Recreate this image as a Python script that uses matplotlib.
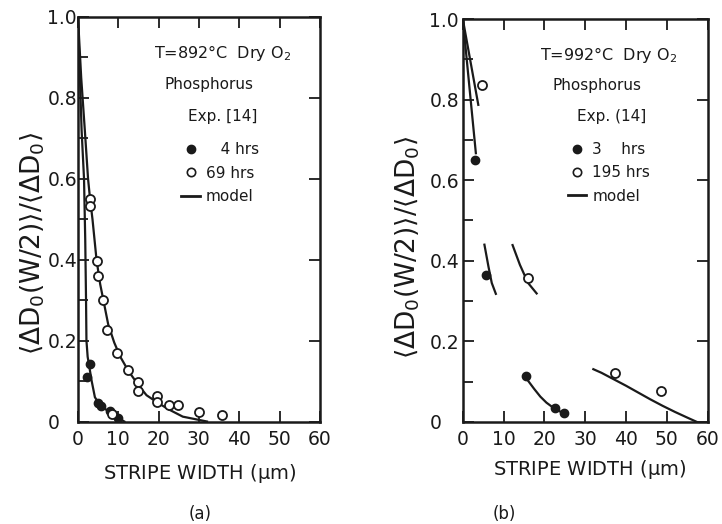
import numpy as np
import matplotlib
matplotlib.use("Agg")
import matplotlib.pyplot as plt
from matplotlib.lines import Line2D

nan = np.nan

# (a) T=892C dry O2
a_4h_x = [2.3, 3.0, 5.0, 5.6, 7.9, 10.0]
a_4h_y = [0.11, 0.142, 0.046, 0.038, 0.027, 0.008]
a_69h_x = [2.9, 2.9, 4.7, 5.0, 6.3, 7.1, 8.5, 9.7, 12.4, 15.0, 14.9, 19.6, 19.5, 22.5, 24.8, 30.1, 35.7]
a_69h_y = [0.55, 0.533, 0.398, 0.36, 0.30, 0.226, 0.018, 0.169, 0.128, 0.097, 0.075, 0.064, 0.048, 0.042, 0.042, 0.023, 0.017]
a_model4_x = [0, 0.9, 1.5, 1.8, 2.0, 2.1, 2.4, 2.9, 3.4, 4.2, 5.5, 8.0, 10.0, 11.5]
a_model4_y = [1.0, 0.72, 0.6, 0.45, 0.3, 0.2, 0.16, 0.13, 0.1, 0.06, 0.04, 0.022, 0.008, 0.0]
a_model69_x = [0, 0.8, 1.7, 2.5, 3.0, 3.6, 4.6, 5.5, 6.5, 7.5, 9, 10.5, 12.5, 15, 17, 20, 22.5, 26, 32]
a_model69_y = [1.0, 0.85, 0.72, 0.6, 0.55, 0.5, 0.4, 0.34, 0.29, 0.24, 0.195, 0.16, 0.125, 0.09, 0.065, 0.045, 0.03, 0.012, 0.0]

# (b) T=992C dry O2 -- parts of the curves are missing in the scan (nan = gap)
b_3h_x = [2.9, 5.8, 15.4, 22.7, 24.8]
b_3h_y = [0.65, 0.365, 0.114, 0.034, 0.022]
b_195h_x = [4.6, 16.0, 37.3, 48.6]
b_195h_y = [0.836, 0.357, 0.122, 0.078]
b_model3_x = [0, 3.2, nan, 5.3, 6.3, 7.1, 8.1, nan, 15.8, 17.5, 19.0, 20.5, 22.5, 25.0]
b_model3_y = [1.0, 0.667, nan, 0.44, 0.385, 0.345, 0.318, nan, 0.105, 0.082, 0.063, 0.048, 0.033, 0.02]
b_model195_x = [0, 3.8, nan, 12.2, 14.0, 16.0, 18.1, nan, 32, 34, 37, 40, 43, 46, 49, 52, 55, 57.4]
b_model195_y = [1.0, 0.787, nan, 0.439, 0.39, 0.345, 0.319, nan, 0.131, 0.122, 0.106, 0.09, 0.073, 0.056, 0.04, 0.025, 0.011, 0.0]

xticks = [0, 10, 20, 30, 40, 50, 60]
yticks = [0, 0.2, 0.4, 0.6, 0.8, 1.0]
ytick_labels = ["0", "0.2", "0.4", "0.6", "0.8", "1.0"]

ink = "#1a1a1a"
plt.rcParams["mathtext.default"] = "regular"
ylab = r"$\langle\Delta D_0(W/2)\rangle/\langle\Delta D_0\rangle$"

fig = plt.figure(figsize=(7.22, 5.24), dpi=100)
ax_a = fig.add_axes([0.108, 0.1956, 0.335, 0.772])
ax_b = fig.add_axes([0.641, 0.1947, 0.339, 0.769])


def style(ax, ypad, ylab_xy, xlab_xy, tag, tag_xy):
    ax.set_xlim(0, 60)
    ax.set_ylim(0, 1.0)
    ax.set_xticks(xticks)
    ax.set_xticklabels([str(t) for t in xticks], fontsize=13.5)
    ax.set_yticks(yticks)
    ax.set_yticklabels(ytick_labels, fontsize=13.5)
    ax.set_yticks(np.arange(0.1, 1.0, 0.2), minor=True)
    for lab in ax.get_yticklabels():
        lab.set_horizontalalignment("left")
    ax.tick_params(which="both", direction="in", top=True, right=True,
                   width=1.3, length=8, color=ink, labelcolor=ink)
    ax.tick_params(which="minor", right=False, length=7)
    ax.tick_params(axis="y", pad=ypad)
    ax.tick_params(axis="x", pad=6)
    for s in ax.spines.values():
        s.set_linewidth(1.8)
        s.set_color(ink)
    ax.set_ylabel(ylab, fontsize=19, color=ink)
    ax.yaxis.set_label_coords(*ylab_xy)
    ax.set_xlabel("STRIPE WIDTH ($\\mu$m)", fontsize=14, color=ink)
    ax.xaxis.set_label_coords(*xlab_xy)
    ax.text(tag_xy[0], tag_xy[1], tag, transform=ax.transAxes, ha="center",
            va="center", fontsize=12, color=ink)


def legend(ax, labels, anchor):
    handles = [
        Line2D([], [], ls="none", marker="o", ms=6, mfc=ink, mec=ink),
        Line2D([], [], ls="none", marker="o", ms=6, mfc="white", mec=ink, mew=1.2),
        Line2D([], [], color=ink, lw=2),
    ]
    ax.legend(handles, labels, loc="upper left", bbox_to_anchor=anchor,
              frameon=False, fontsize=11, handlelength=1.2, handletextpad=0.4,
              labelspacing=0.55, borderpad=0, borderaxespad=0, labelcolor=ink)


# panel (a)
ax_a.plot(a_model4_x, a_model4_y, color=ink, lw=1.6)
ax_a.plot(a_model69_x, a_model69_y, color=ink, lw=1.6)
ax_a.plot(a_4h_x, a_4h_y, "o", ms=6, mfc=ink, mec=ink)
ax_a.plot(a_69h_x, a_69h_y, "o", ms=6.5, mfc="white", mec=ink, mew=1.3)
ax_a.text(35.8, 0.911, "T=892°C  Dry O$_2$", ha="center", va="center", fontsize=11.5, color=ink)
ax_a.text(32.6, 0.832, "Phosphorus", ha="center", va="center", fontsize=11, color=ink)
ax_a.text(36.0, 0.753, "Exp. [14]", ha="center", va="center", fontsize=11, color=ink)
legend(ax_a, ["   4 hrs", "69 hrs", "model"], (0.428, 0.69))
style(ax_a, 22, (-0.13, 0.44), (0.504, -0.099), "(a)", (0.504, -0.229))

# panel (b)
ax_b.plot(b_model3_x, b_model3_y, color=ink, lw=1.6)
ax_b.plot(b_model195_x, b_model195_y, color=ink, lw=1.6)
ax_b.plot(b_3h_x, b_3h_y, "o", ms=6, mfc=ink, mec=ink)
ax_b.plot(b_195h_x, b_195h_y, "o", ms=6.5, mfc="white", mec=ink, mew=1.3)
ax_b.text(35.6, 0.91, "T=992°C  Dry O$_2$", ha="center", va="center", fontsize=11.5, color=ink)
ax_b.text(32.8, 0.836, "Phosphorus", ha="center", va="center", fontsize=11, color=ink)
ax_b.text(36.6, 0.758, "Exp. (14]", ha="center", va="center", fontsize=11, color=ink)
legend(ax_b, ["3    hrs", "195 hrs", "model"], (0.43, 0.695))
style(ax_b, 24, (-0.165, 0.434), (0.518, -0.089), "(b)", (0.17, -0.229))

fig.savefig("out.png", dpi=100)
